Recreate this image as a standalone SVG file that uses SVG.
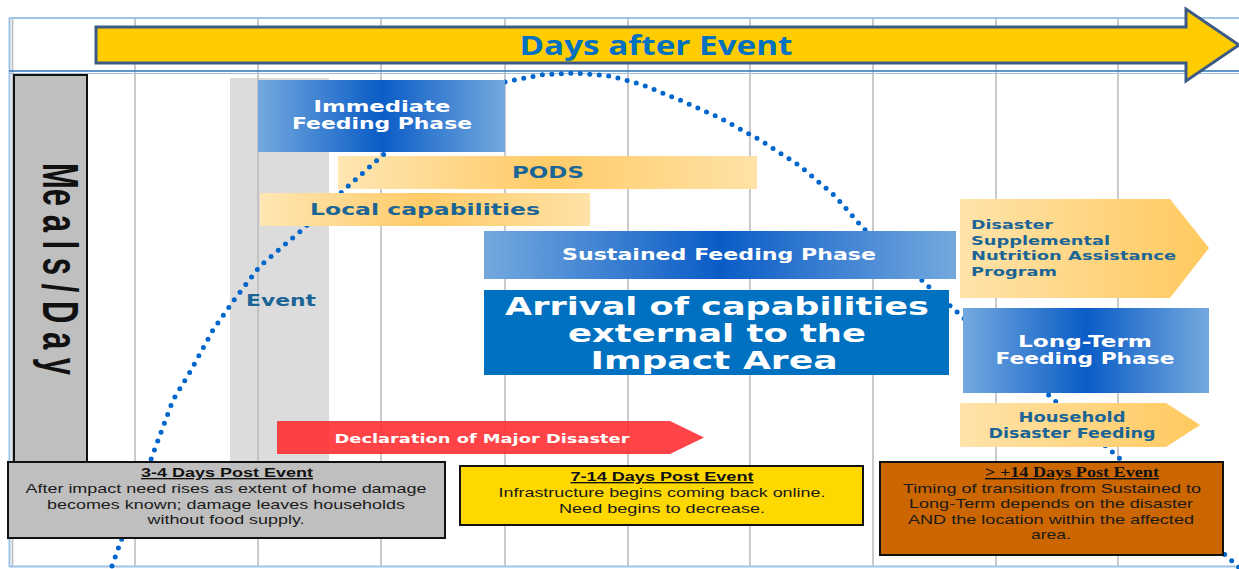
<svg xmlns="http://www.w3.org/2000/svg" width="1239" height="569" viewBox="0 0 1239 569">
<style>
.grid{stroke:#BDBDBD;stroke-width:1.6}
.frame{stroke:#9DC3E6;stroke-width:2;fill:none}
.ph{font-family:"DejaVu Sans",Verdana,sans-serif;font-weight:bold;fill:#ffffff;text-anchor:middle}
.lb{font-family:"DejaVu Sans",Verdana,sans-serif;font-weight:bold;fill:#1A6496}
.note{font-family:"Liberation Sans",Arial,sans-serif;font-size:13.5px;fill:#1a1a1a;text-anchor:middle}
.nt{font-family:"Liberation Sans",Arial,sans-serif;font-size:13.5px;font-weight:bold;fill:#111;text-anchor:middle;text-decoration:underline}
.box{stroke:#111;stroke-width:2}
</style>
<defs>
<linearGradient id="gBlue" x1="0" y1="0" x2="1" y2="0">
<stop offset="0" stop-color="#74A9DF"/>
<stop offset="0.5" stop-color="#0A5CC6"/>
<stop offset="1" stop-color="#74A9DF"/>
</linearGradient>
<linearGradient id="gOr" x1="0" y1="0" x2="1" y2="0">
<stop offset="0" stop-color="#FFE6B3"/>
<stop offset="0.5" stop-color="#FFCB68"/>
<stop offset="1" stop-color="#FFE2A6"/>
</linearGradient>
<linearGradient id="gOr2" x1="0" y1="0" x2="1" y2="0">
<stop offset="0" stop-color="#FFE3AA"/>
<stop offset="1" stop-color="#FFC95E"/>
</linearGradient>
</defs>

<g id="grid">
<rect x="0" y="0" width="1239" height="569" fill="#ffffff"/>
<line class="grid" x1="12.5" y1="18" x2="12.5" y2="566"/>
<line class="grid" x1="135" y1="18" x2="135" y2="566"/>
<line class="grid" x1="258" y1="18" x2="258" y2="566"/>
<line class="grid" x1="381" y1="18" x2="381" y2="566"/>
<line class="grid" x1="505" y1="18" x2="505" y2="566"/>
<line class="grid" x1="628" y1="18" x2="628" y2="566"/>
<line class="grid" x1="750" y1="18" x2="750" y2="566"/>
<line class="grid" x1="873" y1="18" x2="873" y2="566"/>
<line class="grid" x1="996" y1="18" x2="996" y2="566"/>
<line class="grid" x1="1118" y1="18" x2="1118" y2="566"/>
<line class="frame" x1="9" y1="18" x2="1239" y2="18"/>
<line class="frame" x1="9.5" y1="18" x2="9.5" y2="567"/>
<line class="frame" x1="9" y1="566.5" x2="1239" y2="566.5"/>
<line x1="9" y1="71" x2="1239" y2="71" stroke="#2E75B6" stroke-width="1.5"/>
<line x1="9" y1="73.5" x2="1239" y2="73.5" stroke="#9DC3E6" stroke-width="1.2"/>
</g>

<g id="event-band">
<rect x="230" y="78" width="99" height="384" fill="#DCDCDC"/>
<line class="grid" x1="258" y1="78" x2="258" y2="462"/>
</g>

<g id="pods">
<rect x="338" y="156" width="419" height="33" fill="url(#gOr)"/>
<text class="lb" x="548" y="178" font-size="16" text-anchor="middle" textLength="72" lengthAdjust="spacingAndGlyphs">PODS</text>
</g>

<g id="connectors">
<path d="M112,566 L121,541 L150,462 L173,400 L190,372 L213,330 L234,300 L260,266 L303,229 L345,189 L383,155 L430,118 L470,95 L505,82 L540,75 L575,73 L610,76 L640,84 L680,100 L720,118 L760,140 L800,166 L835,196 L863,228 L900,260 L927,285 L957,312 L1053,399 L1118,457 L1245,573" fill="none" stroke="#0066CC" stroke-width="5" stroke-linecap="round" stroke-linejoin="round" stroke-dasharray="0 9.5"/>
</g>

<g id="days-arrow">
<polygon points="96,27 1186,27 1186,9 1239,45 1186,81 1186,63 96,63" fill="#FFCC00" stroke="#3B5A85" stroke-width="3" stroke-linejoin="miter"/>
<text x="656" y="55" font-family="'Open Sans','Noto Sans',sans-serif" font-weight="bold" font-size="26" fill="#0070C0" text-anchor="middle" textLength="273" lengthAdjust="spacingAndGlyphs">Days after Event</text>
</g>

<g id="meals-day">
<rect x="14" y="75" width="73" height="387" fill="#BFBFBF" stroke="#111" stroke-width="2"/>
<text transform="translate(43,163) rotate(90)" font-family="'Liberation Sans',Arial,sans-serif" font-weight="bold" font-size="50" fill="#111" textLength="212" lengthAdjust="spacingAndGlyphs">Me a l s / D a y</text>
</g>

<g id="event-label">
<text class="lb" x="246" y="306" font-size="15" textLength="70" lengthAdjust="spacingAndGlyphs">Event</text>
</g>

<g id="immediate">
<rect x="258" y="80" width="247" height="72" fill="url(#gBlue)"/>
<text class="ph" x="382" y="112" font-size="15.5" textLength="137" lengthAdjust="spacingAndGlyphs">Immediate</text>
<text class="ph" x="382" y="129" font-size="15.5" textLength="180" lengthAdjust="spacingAndGlyphs">Feeding Phase</text>
</g>

<g id="local">
<rect x="260" y="193" width="330" height="33" fill="url(#gOr)"/>
<text class="lb" x="425" y="215" font-size="16" text-anchor="middle" textLength="230" lengthAdjust="spacingAndGlyphs">Local capabilities</text>
</g>

<g id="sustained">
<rect x="484" y="231" width="472" height="48" fill="url(#gBlue)"/>
<text class="ph" x="719" y="260" font-size="15" textLength="314" lengthAdjust="spacingAndGlyphs">Sustained Feeding Phase</text>
</g>

<g id="arrival">
<rect x="484" y="290" width="465" height="85" fill="#0070C0"/>
<text class="ph" x="717" y="315" font-size="24" textLength="424" lengthAdjust="spacingAndGlyphs">Arrival of capabilities</text>
<text class="ph" x="717" y="342" font-size="24" textLength="298" lengthAdjust="spacingAndGlyphs">external to the</text>
<text class="ph" x="714" y="369" font-size="24" textLength="247" lengthAdjust="spacingAndGlyphs">Impact Area</text>
</g>

<g id="dsnap">
<polygon points="960,199 1170,199 1209,248 1170,298 960,298" fill="url(#gOr2)"/>
<text class="lb" x="971" y="229" font-size="13" textLength="82" lengthAdjust="spacingAndGlyphs">Disaster</text>
<text class="lb" x="971" y="245" font-size="13" textLength="139" lengthAdjust="spacingAndGlyphs">Supplemental</text>
<text class="lb" x="971" y="260" font-size="13" textLength="205" lengthAdjust="spacingAndGlyphs">Nutrition Assistance</text>
<text class="lb" x="971" y="276" font-size="13" textLength="86" lengthAdjust="spacingAndGlyphs">Program</text>
</g>

<g id="long-term">
<rect x="963" y="308" width="246" height="85" fill="url(#gBlue)"/>
<text class="ph" x="1085" y="347" font-size="15.5" textLength="134" lengthAdjust="spacingAndGlyphs">Long-Term</text>
<text class="ph" x="1085" y="364" font-size="15.5" textLength="179" lengthAdjust="spacingAndGlyphs">Feeding Phase</text>
</g>

<g id="household">
<polygon points="960,403 1166,403 1200,425 1166,447 960,447" fill="url(#gOr2)"/>
<text class="lb" x="1072" y="422" font-size="13.5" text-anchor="middle" textLength="107" lengthAdjust="spacingAndGlyphs">Household</text>
<text class="lb" x="1072" y="438" font-size="13.5" text-anchor="middle" textLength="167" lengthAdjust="spacingAndGlyphs">Disaster Feeding</text>
</g>

<g id="declaration">
<polygon points="277,421 670,421 704,437.5 670,454 277,454" fill="#FF2A2E" fill-opacity="0.88"/>
<text class="ph" x="482" y="442.5" font-size="13" textLength="295" lengthAdjust="spacingAndGlyphs">Declaration of Major Disaster</text>
</g>

<g id="note-3-4">
<rect class="box" x="8" y="462" width="437" height="76" fill="#BFBFBF"/>
<text class="nt" x="227" y="477" textLength="172" lengthAdjust="spacingAndGlyphs">3-4 Days Post Event</text>
<text class="note" x="226" y="493" textLength="401" lengthAdjust="spacingAndGlyphs">After impact need rises as extent of home damage</text>
<text class="note" x="226" y="509" textLength="358" lengthAdjust="spacingAndGlyphs">becomes known; damage leaves households</text>
<text class="note" x="226" y="524" textLength="157" lengthAdjust="spacingAndGlyphs">without food supply.</text>
</g>

<g id="note-7-14">
<rect class="box" x="460" y="466" width="403" height="59" fill="#FFD800"/>
<text class="nt" x="662" y="481" textLength="183" lengthAdjust="spacingAndGlyphs">7-14 Days Post Event</text>
<text class="note" x="662" y="497" textLength="327" lengthAdjust="spacingAndGlyphs">Infrastructure begins coming back online.</text>
<text class="note" x="662" y="513" textLength="206" lengthAdjust="spacingAndGlyphs">Need begins to decrease.</text>
</g>

<g id="note-14plus">
<rect class="box" x="880" y="462" width="343" height="93" fill="#CC6600"/>
<text x="1072" y="477" font-family="'Liberation Serif','Times New Roman',serif" font-weight="bold" font-size="14" fill="#111" text-anchor="middle" text-decoration="underline" textLength="174" lengthAdjust="spacingAndGlyphs">&gt; +14 Days Post Event</text>
<text class="note" x="1052" y="493" textLength="298" lengthAdjust="spacingAndGlyphs">Timing of transition from Sustained to</text>
<text class="note" x="1051" y="508" textLength="284" lengthAdjust="spacingAndGlyphs">Long-Term depends on the disaster</text>
<text class="note" x="1051" y="524" textLength="286" lengthAdjust="spacingAndGlyphs">AND the location within the affected</text>
<text class="note" x="1051" y="539" textLength="40" lengthAdjust="spacingAndGlyphs">area.</text>
</g>
</svg>
